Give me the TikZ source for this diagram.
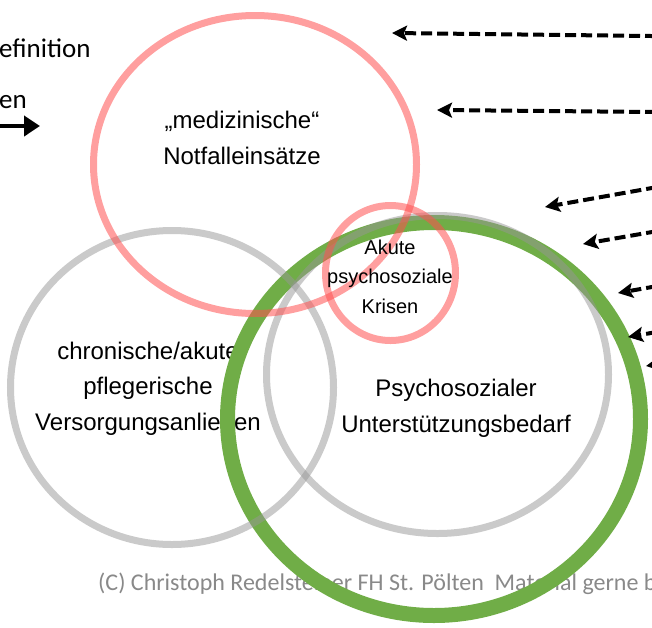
\documentclass[tikz,border=0pt]{standalone}
\usepackage{fontspec}
\setmainfont{Liberation Sans}
\newfontfamily\calibri{Carlito}
\usetikzlibrary{shapes.geometric,arrows.meta}

\definecolor{ringred}{RGB}{255,80,80}
\definecolor{ringgray}{RGB}{150,150,150}
\definecolor{ringgreen}{RGB}{112,173,71}
\definecolor{footgray}{RGB}{137,137,137}

\tikzset{
  ring/.style={ellipse, inner sep=0pt, outer sep=0pt, fill=none},
  grayring/.style={ring, draw=ringgray, draw opacity=0.5, line width=7pt},
  redring/.style={ring, draw=ringred, draw opacity=0.55, line width=7pt},
  greenring/.style={ring, draw=ringgreen, line width=15pt},
  % multi-line labels: the base anchor is the baseline of the last line
  label/.style={align=center, inner sep=0pt, anchor=base,
    font=\fontsize{24}{35.5}\selectfont},
  smalllabel/.style={align=center, inner sep=0pt, anchor=base,
    font=\fontsize{20}{29.3}\selectfont},
  sidetext/.style={inner sep=0pt, anchor=base west,
    font=\calibri\fontsize{27}{32}\selectfont},
  dasharrow/.style={line width=4pt, dash pattern=on 11pt off 5pt,
    -{Stealth[length=15pt, width=15pt, inset=3pt]}},
  solidarrow/.style={line width=4pt, -{Triangle[length=16pt, width=20pt]}}
}

\begin{document}
\begin{tikzpicture}[x=1pt, y=-1pt]
  \path[use as bounding box] (0,0) rectangle (652,627);
  \clip (0,0) rectangle (652,627);

  % copyright line, partly covered by the green ring
  \node[inner sep=0pt, anchor=base west, text=footgray,
        font=\calibri\fontsize{24}{28}\selectfont]
        (foot) at (98,590) {(C) Christoph Redelsteiner FH St. Pölten\ \ Material gerne b};

  % left-hand remarks and arrow
  \node[sidetext] (def) at (-1,57) {efinition};
  \node[sidetext] (en) at (-1,108) {en};
  \coordinate (arrS) at (-5,126);
  \coordinate (arrT) at (40,126);
  \draw[solidarrow] (arrS) -- (arrT);

  % nursing label sits beneath the green ring
  \node[label] (pflege) at (148,430) {chronische/akute\\pflegerische\\Versorgungsanliegen};

  % the psychosocial support ring
  \node[greenring, minimum width=413pt, minimum height=393pt] (green) at (434,419) {};

  % grey rings
  \node[grayring, minimum width=323pt, minimum height=314pt] (grayL) at (172,387.5) {};
  \node[grayring, minimum width=342pt, minimum height=318pt] (grayR) at (437.5,374.5) {};

  % red rings
  \node[redring, minimum width=323pt, minimum height=298pt] (redBig) at (255,164.5) {};
  \node[redring, minimum width=130pt, minimum height=135pt] (redSmall) at (390.5,273) {};

  % labels
  \node[label] (med) at (242,164) {„medizinische“\\Notfalleinsätze};
  \node[label] (psy) at (456,432) {Psychosozialer\\Unterstützungsbedarf};
  \node[smalllabel] (krise) at (390,313) {Akute\\psychosoziale\\Krisen};

  % dashed arrows coming in from the right
  \coordinate (s1) at (720,36.8);  \coordinate (t1) at (392,33);
  \coordinate (s2) at (720,112.6); \coordinate (t2) at (437,110);
  \coordinate (s3) at (720,175.9); \coordinate (t3) at (545,207);
  \coordinate (s4) at (720,220.2); \coordinate (t4) at (583,244);
  \coordinate (s5) at (720,275);   \coordinate (t5) at (618,293);
  \coordinate (s6) at (720,321);   \coordinate (t6) at (628,337);
  \coordinate (s7) at (720,354);   \coordinate (t7) at (646,366);
  \foreach \i in {1,...,7} {
    \draw[dasharrow] (s\i) -- (t\i);
  }
\end{tikzpicture}
\end{document}
